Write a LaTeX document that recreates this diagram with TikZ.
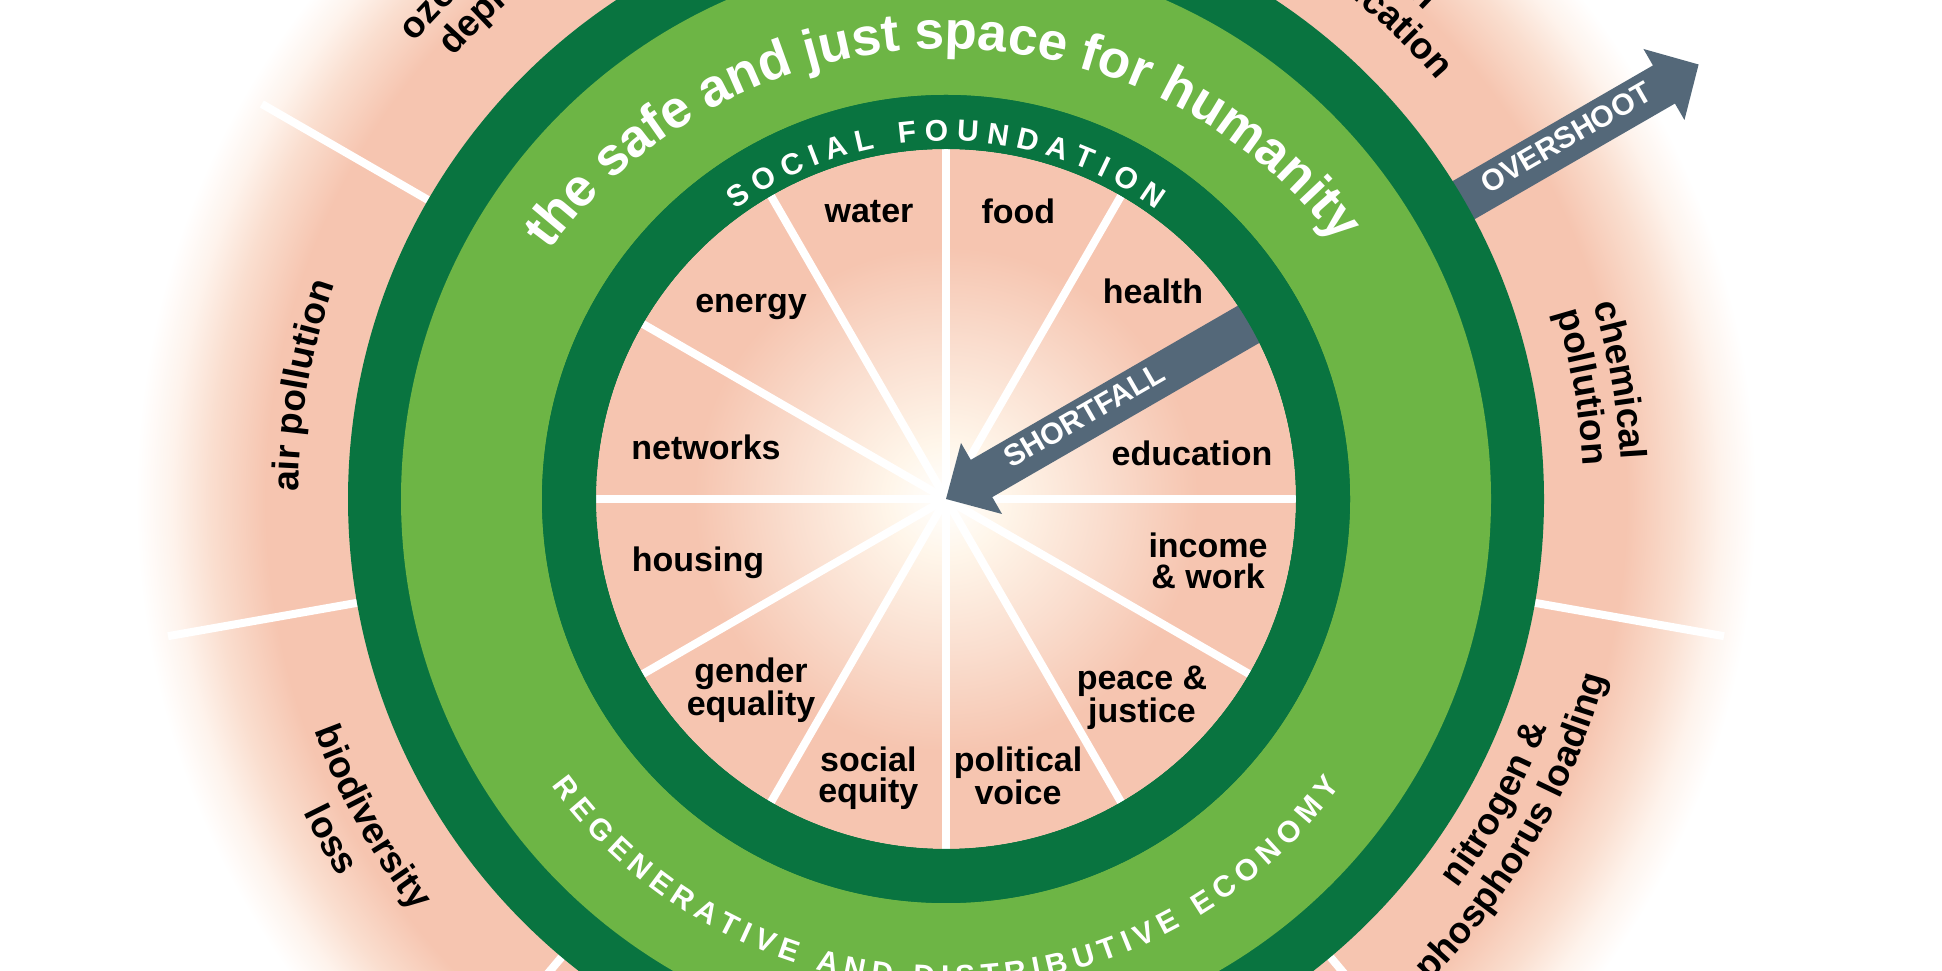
\documentclass[tikz,border=0pt]{standalone}
\usepackage{fontspec}
\setmainfont{Liberation Sans}

\definecolor{dkgreen}{RGB}{9,116,64}
\definecolor{ltgreen}{RGB}{109,181,69}
\definecolor{pinkA}{RGB}{246,197,176}
\definecolor{pinkL}{RGB}{250,222,207}
\definecolor{pinkXL}{RGB}{254,243,236}
\definecolor{creamA}{RGB}{255,246,234}
\definecolor{slate}{RGB}{84,104,121}

\pgfdeclareradialshading{outerfade}{\pgfpoint{0bp}{0bp}}{color(0bp)=(pinkA); color(21bp)=(pinkA); color(22.7bp)=(pinkL); color(23.9bp)=(pinkXL); color(25bp)=(white); color(50bp)=(white)}
\pgfdeclareradialshading{innerglow}{\pgfpoint{0bp}{0bp}}{color(0bp)=(white); color(4bp)=(creamA); color(11bp)=(pinkL); color(18bp)=(pinkA); color(25bp)=(pinkA); color(50bp)=(pinkA)}

\tikzset{
  innerlabel/.style={font=\fontsize{34}{31}\selectfont\bfseries, text=black, inner sep=0pt, align=center},
  arrowtext/.style={font=\fontsize{30}{32}\selectfont\bfseries, text=white, inner sep=0pt, rotate=30},
  spokeline/.style={draw=white, line width=8pt},
  arrowshape/.style={fill=slate},
  arcchar/.style={anchor=base, inner sep=0pt, outer sep=0pt},
}

\newcommand\ArcChar[6]{\node[arcchar, rotate=#5] (#1) at ([shift={(#2)}]#3:#4) {#6};}

\ExplSyntaxOn
\box_new:N \l__arc_box
\fp_new:N \l__arc_W_fp
\fp_new:N \l__arc_pos_fp
\fp_new:N \l__arc_trk_fp
\fp_new:N \l__arc_w_fp
\tl_new:N \l__arc_text_tl
\int_new:N \l__arc_n_int
\int_new:N \g__arc_id_int
\cs_new:Npn \__arc_sp: {}
\cs_new_protected:Npn \__arc_measure:nn #1#2
  {
    \token_if_eq_meaning:NNTF #2 \__arc_sp:
      { \hbox_set:Nn \l__arc_box { \cs_set_eq:Nc \selectfont { pgf@selectfontorig } #1 \c_space_tl } }
      { \hbox_set:Nn \l__arc_box { \cs_set_eq:Nc \selectfont { pgf@selectfontorig } #1 #2 } }
    \fp_set:Nn \l__arc_w_fp { \dim_to_fp:n { \box_wd:N \l__arc_box } }
  }
% #1 centre, #2 radius, #3 centre angle, #4 dir (1 = top/clockwise, -1 = bottom/ccw),
% #5 font, #6 span in degrees (0 = natural), #7 text
\NewDocumentCommand \ArcText { m m m m m m m }
  {
    \tl_set:Nn \l__arc_text_tl {#7}
    \tl_replace_all:Nnn \l__arc_text_tl { ~ } { \__arc_sp: }
    \int_set:Nn \l__arc_n_int { \tl_count:N \l__arc_text_tl }
    \fp_zero:N \l__arc_W_fp
    \tl_map_inline:Nn \l__arc_text_tl
      {
        \__arc_measure:nn {#5} {##1}
        \fp_add:Nn \l__arc_W_fp { \l__arc_w_fp }
      }
    \fp_compare:nNnTF {#6} > {0}
      {
        \fp_set:Nn \l__arc_trk_fp { ( (#6) * pi / 180 * (#2) - \l__arc_W_fp ) / ( \l__arc_n_int - 1 ) }
        \fp_set:Nn \l__arc_W_fp { (#6) * pi / 180 * (#2) }
      }
      { \fp_zero:N \l__arc_trk_fp }
    \fp_zero:N \l__arc_pos_fp
    \tl_map_inline:Nn \l__arc_text_tl
      {
        \__arc_measure:nn {#5} {##1}
        \token_if_eq_meaning:NNF ##1 \__arc_sp:
          {
            \int_gincr:N \g__arc_id_int
            \use:e
              {
                \exp_not:N \ArcChar
                  { arcch \int_use:N \g__arc_id_int }
                  {#1}
                  { \fp_eval:n { (#3) + (#4) * ( \l__arc_W_fp / 2 - \l__arc_pos_fp - \l__arc_w_fp / 2 ) / (#2) * 180 / pi } }
                  {#2}
                  { \fp_eval:n { (#3) + (#4) * ( \l__arc_W_fp / 2 - \l__arc_pos_fp - \l__arc_w_fp / 2 ) / (#2) * 180 / pi - 90 * (#4) } }
                  { \exp_not:n { #5 ##1 } }
              }
          }
        \fp_add:Nn \l__arc_pos_fp { \l__arc_w_fp + \l__arc_trk_fp }
      }
  }
\ExplSyntaxOff

\newcommand\OuterFont{\color{black}\fontsize{37}{39}\selectfont\bfseries}
\newcommand\TitleFont{\color{white}\fontsize{53}{56}\selectfont\bfseries}
\newcommand\CapsFont{\color{white}\fontsize{30}{32}\selectfont\bfseries}

\begin{document}
\begin{tikzpicture}[x=1pt,y=1pt]
\useasboundingbox (0,0) rectangle (1942,971);
\clip (0,0) rectangle (1942,971);
\fill[white] (0,0) rectangle (1942,971);

\coordinate (C) at (946,472);
\coordinate (Ct) at (946,432);

% outer ecological ceiling band with fade
\shade[shading=outerfade] (C) circle (810);
\foreach \a in {30,70,...,350} \draw[spokeline] (C) ++(\a:598) -- ++(\a:192);

% overshoot arrow
\begin{scope}[shift={(C)}, rotate=30]
  \fill[arrowshape] (560,22) -- (829,22) -- (829,41) -- (869,0) -- (829,-41) -- (829,-22) -- (560,-22) -- cycle;
\end{scope}

% rings
\fill[dkgreen] (C) circle (598);
\fill[ltgreen] (C) circle (545);
\fill[dkgreen] (C) circle (404);
\shade[shading=innerglow] (C) circle (350);
\foreach \a in {0,30,...,330} \draw[spokeline] (C) -- ++(\a:350);

% shortfall arrow
\begin{scope}[shift={(C)}, rotate=30]
  \fill[arrowshape] (0,0) -- (41,41) -- (41,21.5) -- (372,21.5) -- (372,-21.5) -- (41,-21.5) -- (41,-41) -- cycle;
\end{scope}
\fill[dkgreen, even odd rule] (C) circle (404) (C) circle (350);

% ring texts
\ArcText{Ct}{490}{90.5}{1}{\TitleFont}{107}{the safe and just space for humanity}
\ArcText{C}{358}{90}{1}{\CapsFont}{72}{SOCIAL FOUNDATION}
\ArcText{C}{488}{-90}{-1}{\CapsFont}{108}{REGENERATIVE AND DISTRIBUTIVE ECONOMY}

% arrow texts
\node[arrowtext] (shortfall) at (1084,556) {SHORTFALL};
\node[arrowtext] (overshoot) at (1566,833.5) {OVERSHOOT};

% social foundation labels
\node[innerlabel, anchor=base] (water) at (869,748.3) {water};
\node[innerlabel, anchor=base] (food) at (1018.3,747.7) {food};
\node[innerlabel, anchor=base] (health) at (1153,667) {health};
\node[innerlabel, anchor=base] (education) at (1192,505) {education};
\node[innerlabel, anchor=north] (income) at (1208,438.3) {income\\\& work};
\node[innerlabel, anchor=north] (peace) at (1142,305) {peace \&\\justice};
\node[innerlabel, anchor=north] (political) at (1018,224) {political\\voice};
\node[innerlabel, anchor=north] (equity) at (868.3,224.3) {social\\equity};
\node[innerlabel, anchor=north] (gender) at (751,313.3) {gender\\equality};
\node[innerlabel, anchor=base] (housing) at (698,399.5) {housing};
\node[innerlabel, anchor=base] (networks) at (706,511) {networks};
\node[innerlabel, anchor=base] (energy) at (751,658) {energy};

% ecological ceiling labels
\ArcText{C}{701}{131}{1}{\OuterFont}{0}{ozone layer}
\ArcText{C}{662}{131}{1}{\OuterFont}{0}{depletion}
\ArcText{C}{684}{50}{1}{\OuterFont}{0}{ocean}
\ArcText{C}{645}{50}{1}{\OuterFont}{0}{acidification}
\ArcText{C}{676}{10}{1}{\OuterFont}{0}{chemical}
\ArcText{C}{638}{10}{1}{\OuterFont}{0}{pollution}
\ArcText{C}{648}{170}{1}{\OuterFont}{0}{air pollution}
\ArcText{C}{673}{209}{-1}{\OuterFont}{0}{biodiversity}
\ArcText{C}{715}{209}{-1}{\OuterFont}{0}{loss}
\ArcText{C}{643}{-29}{-1}{\OuterFont}{0}{nitrogen \&}
\ArcText{C}{683}{-30}{-1}{\OuterFont}{0}{phosphorus loading}
\end{tikzpicture}
\end{document}
